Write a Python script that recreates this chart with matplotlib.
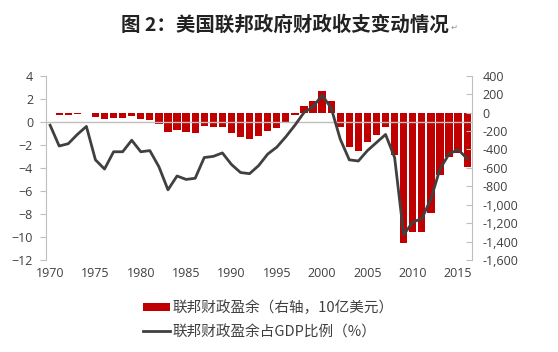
import matplotlib
matplotlib.use("Agg")
import matplotlib.pyplot as plt
from matplotlib.patches import Patch
from matplotlib.lines import Line2D
from matplotlib.ticker import FuncFormatter

plt.rcParams['font.family'] = ['Noto Sans CJK SC', 'DejaVu Sans']

# Data (fiscal years 1970-2016)
years = list(range(1970, 2017))
surplus_bn = [-3, -23, -23, -15, -6, -53, -74, -54, -59, -41,
              -74, -79, -128, -208, -185, -212, -221, -150, -155, -153,
              -221, -269, -290, -255, -203, -164, -107, -22, 69, 126,
              236, 128, -158, -378, -413, -318, -248, -161, -459, -1413,
              -1294, -1300, -1087, -680, -485, -438, -585]
surplus_gdp = [-0.3, -2.1, -1.9, -1.1, -0.4, -3.3, -4.1, -2.6, -2.6, -1.6,
               -2.6, -2.5, -3.9, -5.9, -4.7, -5.0, -4.9, -3.1, -3.0, -2.7,
               -3.7, -4.4, -4.5, -3.8, -2.8, -2.2, -1.3, -0.3, 0.8, 1.3,
               2.3, 1.2, -1.5, -3.3, -3.4, -2.5, -1.8, -1.1, -3.1, -9.8,
               -8.7, -8.4, -6.7, -4.1, -2.8, -2.4, -3.2]
x_labels = list(range(1970, 2016, 5))
left_ticks = list(range(-12, 5, 2))
right_ticks = list(range(-1600, 401, 200))

title = "图 2：美国联邦政府财政收支变动情况"
bar_label = "联邦财政盈余（右轴，10亿美元）"
line_label = "联邦财政盈余占GDP比例（%）"

RED = "#C00000"
LINE = "#404040"
GRID = "#BFBFBF"
TXT = "#404040"

fig = plt.figure(figsize=(5.58, 3.52), dpi=100, facecolor='white')
ax = fig.add_axes([0.0817, 0.261, 0.7636, 0.524])
ax2 = ax.twinx()

# bars on the right axis, kept behind the line axis
ax2.bar(years, surplus_bn, width=0.8, color=RED, zorder=1)
ax2.set_ylim(-1600, 400)
ax2.set_yticks(right_ticks)
ax2.yaxis.set_major_formatter(FuncFormatter(lambda v, p: f"{int(v):,}"))

ax.set_zorder(ax2.get_zorder() + 1)
ax.patch.set_visible(False)
ax.axhline(0, color=GRID, lw=1.0, zorder=2)
ax.plot(years, surplus_gdp, color=LINE, lw=2.0, zorder=3)
ax.set_ylim(-12, 4)
ax.set_yticks(left_ticks)
ax.set_xlim(1969.5, 2016.5)
ax.set_xticks(x_labels)

for a in (ax, ax2):
    for s in ("top", "bottom"):
        a.spines[s].set_visible(False)
    a.spines["left"].set_color(GRID)
    a.spines["right"].set_color(GRID)
ax.spines["right"].set_visible(False)
ax2.spines["left"].set_visible(False)

ax.tick_params(axis='y', length=4, width=0.8, color=GRID, pad=5, labelsize=9, labelcolor=TXT)
ax2.tick_params(axis='y', direction='in', length=4, width=0.8, color=GRID, pad=8,
                labelsize=9, labelcolor=TXT)
ax.tick_params(axis='x', length=0, pad=5, labelsize=9, labelcolor=TXT)
for lab in ax.get_xticklabels() + ax.get_yticklabels() + ax2.get_yticklabels():
    lab.set_family(['Open Sans', 'DejaVu Sans'])

fig.text(0.511, 0.928, title, ha='center', va='center', fontsize=14,
         fontweight='bold', color='#222222')
fig.text(0.808, 0.922, "↵", ha='left', va='center', fontsize=6, color='#999999',
         family=['DejaVu Sans'])

handles = [Patch(facecolor=RED, edgecolor='none'),
           Line2D([0], [0], color=LINE, lw=2.0)]
fig.legend(handles, [bar_label, line_label], loc='upper left',
           bbox_to_anchor=(0.2557, 0.146), frameon=False, fontsize=10.5,
           handlelength=1.85, handleheight=0.5, handletextpad=0.2,
           labelspacing=0.67, borderaxespad=0, borderpad=0, labelcolor=TXT)

fig.savefig("out.png", dpi=100, facecolor='white')
